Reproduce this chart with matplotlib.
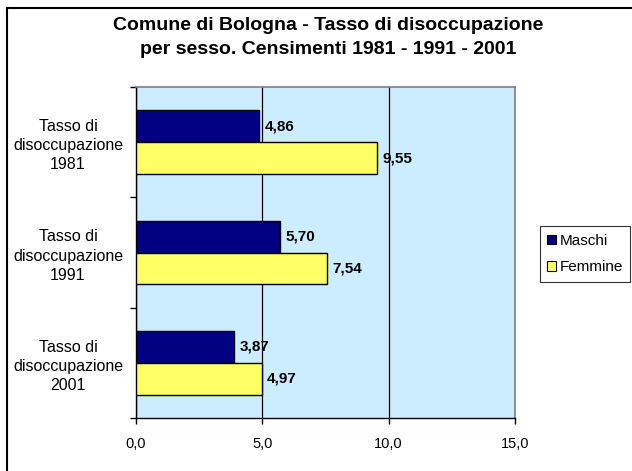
import matplotlib
matplotlib.use("Agg")
import matplotlib.pyplot as plt
from matplotlib.lines import Line2D
import numpy as np

# data
categories = ["Tasso di\ndisoccupazione\n1981",
              "Tasso di\ndisoccupazione\n1991",
              "Tasso di\ndisoccupazione\n2001"]
maschi = [4.86, 5.70, 3.87]
femmine = [9.55, 7.54, 4.97]
series_names = ["Maschi", "Femmine"]
x_ticks = [0, 5, 10, 15]

plt.rcParams["font.family"] = ["Liberation Sans", "DejaVu Sans"]

fig = plt.figure(figsize=(6.32, 4.71), dpi=100)
ax = fig.add_axes([136 / 632, 1 - 418 / 471, (515 - 136) / 632, (418 - 87) / 471])
ax.set_facecolor("#CCECFF")

pos = np.arange(len(categories))
h = 0.29
bars_m = ax.barh(pos - h / 2, maschi, height=h, color="#000080",
                 edgecolor="black", linewidth=1.0, label=series_names[0], zorder=3)
bars_f = ax.barh(pos + h / 2, femmine, height=h, color="#FFFF66",
                 edgecolor="black", linewidth=1.0, label=series_names[1], zorder=3)

for bars, vals in ((bars_m, maschi), (bars_f, femmine)):
    for b, v in zip(bars, vals):
        ax.annotate(f"{v:.2f}".replace(".", ","),
                    (v, b.get_y() + b.get_height() / 2),
                    xytext=(4, 0), textcoords="offset points",
                    ha="left", va="center", fontsize=11, fontweight="bold", zorder=4)

ax.set_xlim(0, 15)
ax.set_ylim(len(categories) - 0.5, -0.5)
ax.set_xticks(x_ticks)
ax.set_xticklabels([f"{t:.1f}".replace(".", ",") for t in x_ticks], fontsize=10.5)
ax.tick_params(axis="x", length=4, width=1, pad=10)

# category boundaries get tick marks, labels sit at the centers
ax.set_yticks(np.arange(len(categories) + 1) - 0.5)
ax.set_yticklabels([])
ax.tick_params(axis="y", which="major", length=4, width=1)
ax.set_yticks(pos, minor=True)
ax.set_yticklabels(categories, minor=True, fontsize=11.5, ha="center",
                   linespacing=1.35)
ax.tick_params(axis="y", which="minor", length=0, pad=49)

ax.grid(axis="x", color="black", linewidth=0.9, zorder=1)
ax.set_axisbelow(True)
for side in ("top", "right"):
    ax.spines[side].set_color("#808080")
    ax.spines[side].set_linewidth(1.2)
for side in ("left", "bottom"):
    ax.spines[side].set_color("black")
    ax.spines[side].set_linewidth(1.0)

fig.text(328 / 632, 1 - 25 / 471, "Comune di Bologna - Tasso di disoccupazione",
         ha="center", va="center", fontsize=14, fontweight="bold")
fig.text(328 / 632, 1 - 49 / 471, "per sesso. Censimenti 1981 - 1991 - 2001",
         ha="center", va="center", fontsize=14, fontweight="bold")

handles = [plt.Rectangle((0, 0), 1, 1, facecolor="#000080", edgecolor="black", linewidth=0.8),
           plt.Rectangle((0, 0), 1, 1, facecolor="#FFFF66", edgecolor="black", linewidth=0.8)]
leg = fig.legend(handles, series_names, loc="center", bbox_to_anchor=(585 / 632, 1 - 254 / 471),
                 fontsize=11, frameon=True, fancybox=False, handlelength=0.6,
                 handleheight=0.6, handletextpad=0.2, labelspacing=0.8,
                 borderpad=0.5, borderaxespad=0)
leg.get_frame().set_edgecolor("black")
leg.get_frame().set_linewidth(0.8)

# outer chart frame (only left and top visible in the crop)
fig.add_artist(Line2D([7 / 632, 7 / 632], [0, 1 - 8 / 471], color="black", linewidth=1.5))
fig.add_artist(Line2D([7 / 632, 1], [1 - 8 / 471, 1 - 8 / 471], color="black", linewidth=1.5))

fig.savefig("out.png", dpi=100)
